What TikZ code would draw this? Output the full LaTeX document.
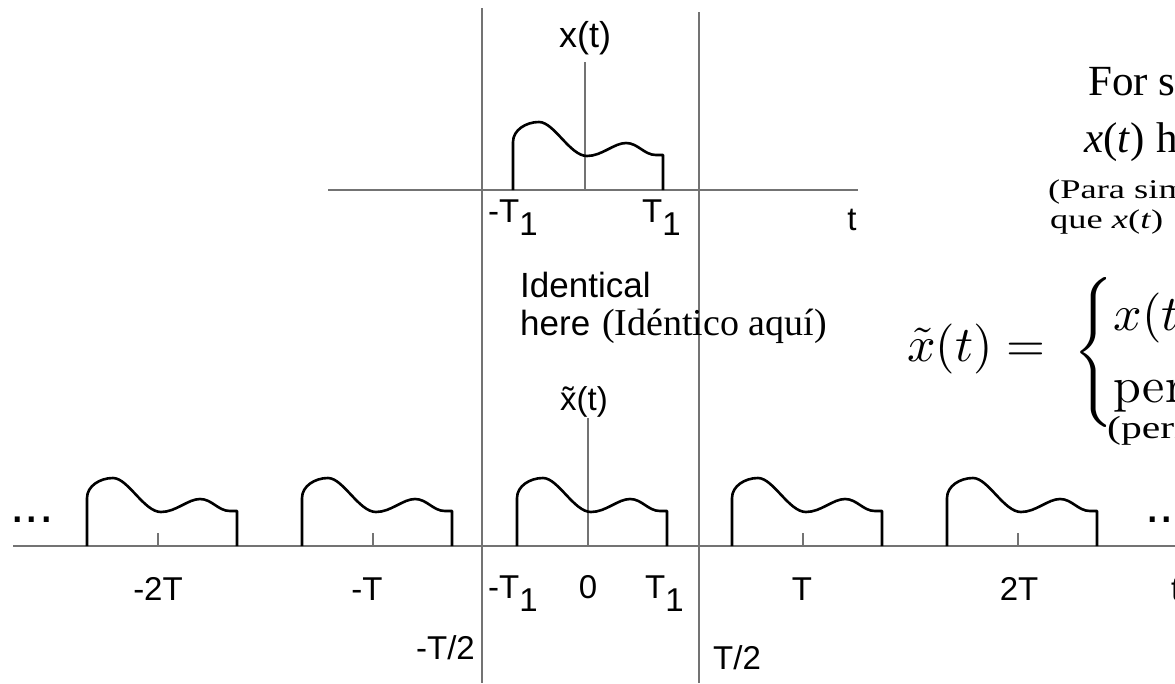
\documentclass[tikz,border=0pt]{standalone}
\usepackage{amsmath}
\usepackage{graphicx}
\usepackage{fontspec}
\newfontfamily\hv{Liberation Sans}
\newfontfamily\tms{Liberation Serif}
\newcommand\lowone{\raisebox{-0.4em}{1}}
\begin{document}
\begin{tikzpicture}[x=1pt,y=-1pt,
  axisline/.style={draw=black!55, line width=1.4pt},
  thinaxis/.style={draw=black!55, line width=1.1pt},
  sig/.style={draw=black, line width=2.6pt, line join=round},
  lab/.style={font=\hv\fontsize{33}{40}\selectfont, inner sep=0pt},
  biglab/.style={font=\hv\fontsize{35}{42}\selectfont, inner sep=0pt},
  tmslab/.style={font=\tms\fontsize{38}{45}\selectfont, inner sep=0pt},
  tmsbig/.style={font=\tms\fontsize{43}{50}\selectfont, inner sep=0pt},
  tmssmall/.style={font=\tms\fontsize{27}{32}\selectfont, inner sep=0pt},
  pulse/.pic={\draw[sig] (-71,0) -- (-71,-48)
      .. controls (-71,-60) and (-58,-68) .. (-45,-68)
      .. controls (-30,-68) and (-14,-34) .. (3,-34)
      .. controls (18,-34) and (30,-47) .. (42,-47)
      .. controls (54,-47) and (60,-35) .. (72,-35)
      -- (79,-35) -- (79,0);}
]
\useasboundingbox (0,0) rectangle (1175,683);
\fill[white] (0,0) rectangle (1175,683);
\clip (0,0) rectangle (1175,683);

% boundaries T/2
\coordinate (lt) at (482,8);   \coordinate (lb) at (482,683);
\coordinate (rt) at (699,12);  \coordinate (rb) at (699,683);
\draw[axisline] (lt) -- (lb);
\draw[axisline] (rt) -- (rb);

% top axes
\coordinate (ta1) at (328,190); \coordinate (ta2) at (858,190);
\coordinate (ty1) at (585,62);  \coordinate (ty0) at (585,190);
\draw[axisline] (ta1) -- (ta2);
\draw[thinaxis] (ty1) -- (ty0);
\pic at (584,190) {pulse};

% bottom axes
\coordinate (ba1) at (13,546); \coordinate (ba2) at (1180,546);
\coordinate (by1) at (588,418); \coordinate (by0) at (588,546);
\draw[axisline] (ba1) -- (ba2);
\draw[thinaxis] (by1) -- (by0);
\foreach \c in {158,373,803,1018}{
  \draw[thinaxis] (\c,533) -- (\c,546);
  \pic at (\c,546) {pulse};
}
\pic at (588,546) {pulse};

% top labels
\node[lab, font=\hv\fontsize{36}{42}\selectfont, anchor=base] (xt) at (585,47) {x(t)};
\node[lab, anchor=base west] (mt1) at (488,222) {-T\lowone};
\node[lab, anchor=base west] (pt1) at (642,222) {T\lowone};
\node[lab, anchor=base] (tt) at (852,230) {t};

% identical here
\node[biglab, anchor=base west] (id1) at (520,297) {Identical};
\node[biglab, anchor=base west] (id2) at (520,335) {here};
\node[tmslab, anchor=base west] (id3) at (602,335) {(Idéntico aquí)};

% bottom labels
\node[lab, anchor=base] (xtt) at (584,410) {\~{x}(t)};
\node[lab, anchor=base] (m2T) at (158,600) {-2T};
\node[lab, anchor=base] (mT) at (367,600) {-T};
\node[lab, anchor=base west] (bm1) at (488,598) {-T\lowone};
\node[lab, anchor=base] (b0) at (588,598) {0};
\node[lab, anchor=base west] (bp1) at (645,598) {T\lowone};
\node[lab, anchor=base] (pT) at (802,600) {T};
\node[lab, anchor=base] (p2T) at (1019,600) {2T};
\node[lab, anchor=base west] (bt) at (1171,600) {t};
\node[lab, anchor=base east] (mh) at (475,659) {-T/2};
\node[lab, anchor=base west] (ph) at (713,669) {T/2};

% dots
\node[font=\hv\fontsize{52}{60}\selectfont, inner sep=0pt, anchor=base west] (dl) at (10,522) {...};
\node[font=\hv\fontsize{52}{60}\selectfont, inner sep=0pt, anchor=base west] (dr) at (1145,522) {...};

% right text
\node[tmsbig, anchor=base west] (r1) at (1088,95) {For simplicity, assume};
\node[tmsbig, anchor=base west] (r2) at (1084,152) {\textit{x}(\textit{t})\hspace{12pt}has finite duration};
\node[tmssmall, anchor=base west] (r3) at (1048,198) {\scalebox{1.35}[1]{(Para simplificar, suponga}};
\node[tmssmall, anchor=base west] (r4) at (1050,228) {\scalebox{1.35}[1]{que \textit{x}(\textit{t})\hspace{3pt} tiene duración finita)}};

\node[inner sep=0pt, anchor=base west, font=\fontsize{10}{12}\selectfont] (fx) at (907,361)
  {\scalebox{5}{$\tilde{x}(t) = \hspace{2.8pt}\raisebox{-0.8pt}{$\begin{cases} x(t), & |t| < T/2\\ \text{periodic with period } T, & \text{otherwise}\end{cases}$}$}};
\node[font=\tms\fontsize{32}{38}\selectfont, inner sep=0pt, anchor=base west] (r5) at (1107,438) {\scalebox{1.3}[1]{(periódico con periodo \textit{T})}};
\end{tikzpicture}
\end{document}
